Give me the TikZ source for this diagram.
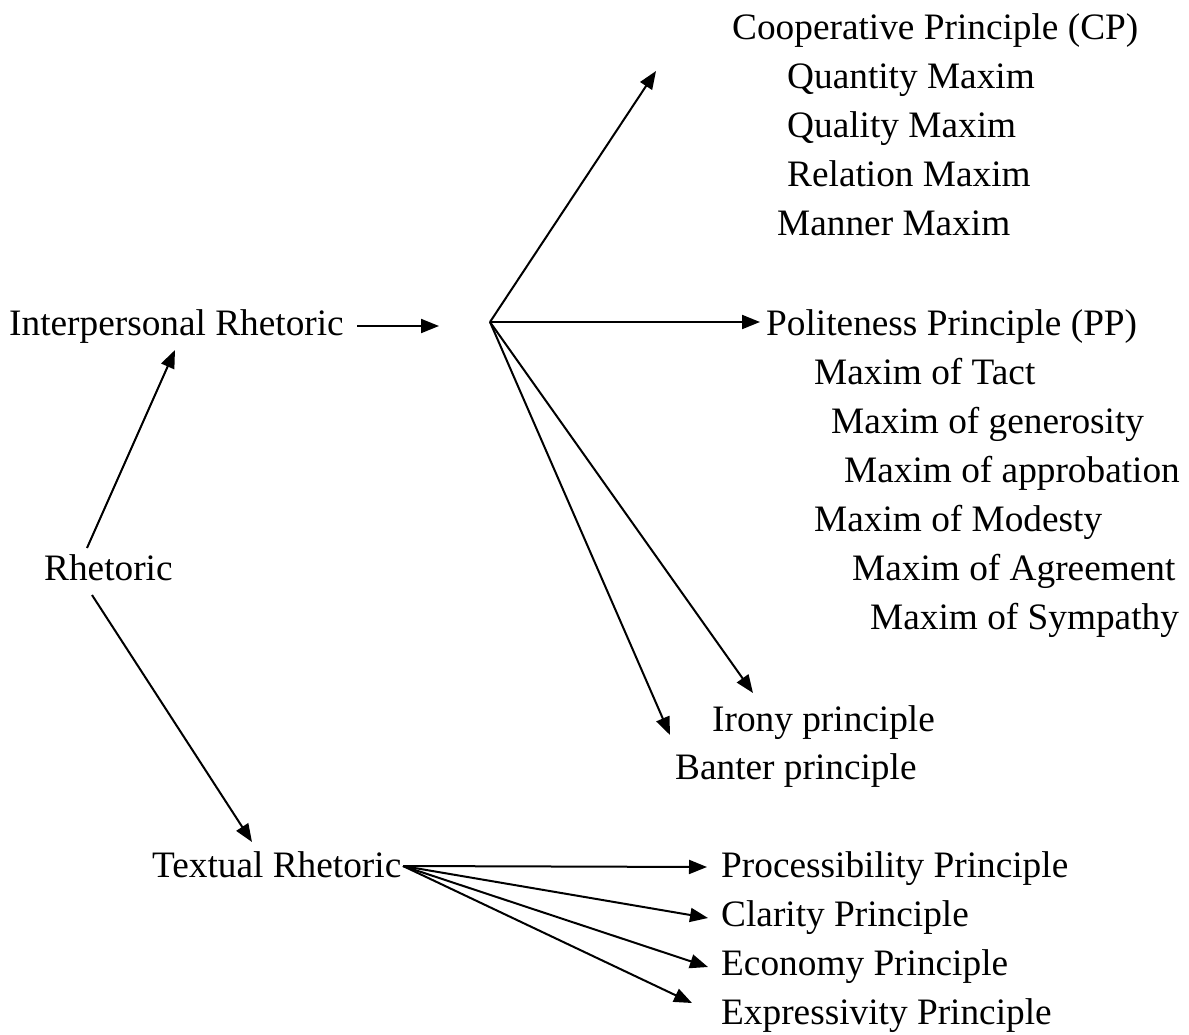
\documentclass[tikz,border=0pt]{standalone}
\usepackage{fontspec}
\setmainfont{Liberation Serif}
\usetikzlibrary{arrows.meta}
\begin{document}
\begin{tikzpicture}[x=1pt,y=-1pt,
  lbl/.style={anchor=base west,inner sep=0pt,font=\fontsize{37.3}{44}\selectfont},
  arr/.style={line width=2pt,-{Triangle[length=18pt,width=14pt]}}]
\useasboundingbox (0,0) rectangle (1189,1034);
% text nodes
\node[lbl] (cp)  at (732,39)  {Cooperative Principle (CP)};
\node[lbl] (qn)  at (787,88)  {Quantity Maxim};
\node[lbl] (ql)  at (787,137) {Quality Maxim};
\node[lbl] (rel) at (787,186) {Relation Maxim};
\node[lbl] (man) at (777,235) {Manner Maxim};
\node[lbl] (ir)  at (9,335)   {Interpersonal Rhetoric};
\node[lbl] (pp)  at (766,335) {Politeness Principle (PP)};
\node[lbl] (tact) at (814,384) {Maxim of Tact};
\node[lbl] (gen) at (831,433) {Maxim of generosity};
\node[lbl] (app) at (844,482) {Maxim of approbation};
\node[lbl] (mod) at (814,531) {Maxim of Modesty};
\node[lbl] (rh)  at (44,580)  {Rhetoric};
\node[lbl] (agr) at (852,580) {Maxim of Agreement};
\node[lbl] (sym) at (870,629) {Maxim of Sympathy};
\node[lbl] (iro) at (712,731) {Irony principle};
\node[lbl] (ban) at (675,779) {Banter principle};
\node[lbl] (tr)  at (152,877) {Textual Rhetoric};
\node[lbl] (proc) at (721,877) {Processibility Principle};
\node[lbl] (cla) at (721,926) {Clarity Principle};
\node[lbl] (eco) at (721,975) {Economy Principle};
\node[lbl] (exp) at (721,1024) {Expressivity Principle};
% connector points
\coordinate (hub) at (490,322);
\coordinate (irOut) at (357,326);
\coordinate (irIn) at (439,326);
\coordinate (rhUp) at (87,548);
\coordinate (irTip) at (175,350);
\coordinate (rhDn) at (92,595);
\coordinate (trTip) at (252,842);
\coordinate (cpTip) at (656,71);
\coordinate (ppTip) at (760,322);
\coordinate (iroTip) at (753,693);
\coordinate (banTip) at (670,735);
\coordinate (trOut) at (403,866);
\coordinate (procTip) at (707,867);
\coordinate (claTip) at (708,918);
\coordinate (ecoTip) at (708,967);
\coordinate (expTip) at (692,1003);
% connectors
\draw[arr] (rhUp) -- (irTip);
\draw[arr] (rhDn) -- (trTip);
\draw[arr] (irOut) -- (irIn);
\draw[arr] (hub) -- (cpTip);
\draw[arr] (hub) -- (ppTip);
\draw[arr] (hub) -- (iroTip);
\draw[arr] (hub) -- (banTip);
\draw[arr] (trOut) -- (procTip);
\draw[arr] (trOut) -- (claTip);
\draw[arr] (trOut) -- (ecoTip);
\draw[arr] (trOut) -- (expTip);
\end{tikzpicture}
\end{document}
